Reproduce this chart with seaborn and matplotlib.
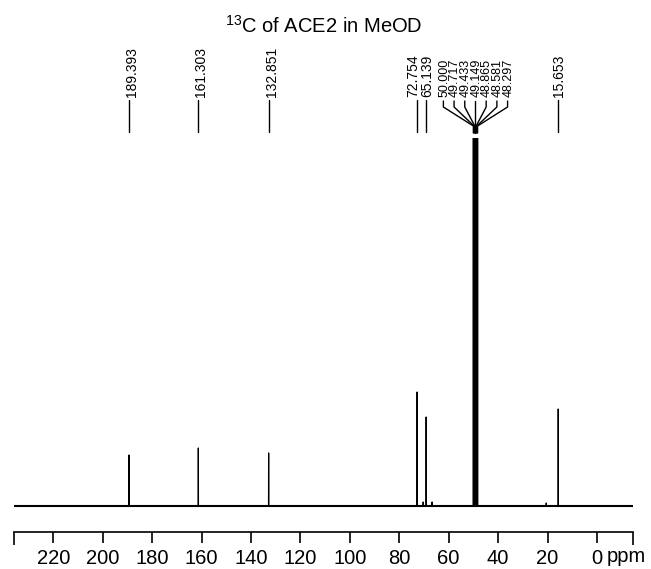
import numpy as np
import pandas as pd
import seaborn as sns
import matplotlib.pyplot as plt
import matplotlib.transforms as mtransforms

sns.set_style("white")
plt.rcParams['font.family'] = ['Liberation Sans', 'DejaVu Sans']
plt.rcParams['mathtext.fontset'] = 'custom'
plt.rcParams['mathtext.rm'] = 'Liberation Sans'
plt.rcParams['text.color'] = 'black'
plt.rcParams['xtick.color'] = 'black'
plt.rcParams['axes.labelcolor'] = 'black'

# picos del espectro (ppm) y alturas (unidades arbitrarias, linea base = 0)
peak_ppm = [189.393, 161.303, 132.851, 72.754, 70.3, 69.1, 66.7, 20.5, 15.653]
peak_height = [51, 58, 53, 114, 4, 89, 4, 3, 97]
# septeto del disolvente (MeOD), se corta arriba
solvent_ppm = [50.000, 49.717, 49.433, 49.149, 48.865, 48.581, 48.297]
solvent_height = [700, 900, 1000, 1100, 1000, 900, 700]

# etiquetas de los picos
single_ppm = [189.393, 161.303, 132.851, 72.754, 69.1, 15.653]
single_text = ['189.393', '161.303', '132.851', '72.754', '65.139', '15.653']
cluster_text = ['50.000', '49.717', '49.433', '49.149', '48.865', '48.581', '48.297']

x_ticks = [0, 20, 40, 60, 80, 100, 120, 140, 160, 180, 200, 220]
x_left, x_right = 235.9, -14.6

# construimos la traza: linea base con picos muy finos
pts = [(x_left, 0.0)]
allp = sorted(zip(peak_ppm + solvent_ppm, peak_height + solvent_height), reverse=True)
for p, h in allp:
    pts += [(p + 0.04, 0.0), (p, h), (p - 0.04, 0.0)]
pts.append((x_right, 0.0))
spec = pd.DataFrame(pts, columns=['ppm', 'intensity'])

fig = plt.figure(figsize=(6.51, 5.69), dpi=100)
W, H = 651, 569
ax = fig.add_axes([14 / W, 37 / H, (633 - 14) / W, (532 - 138) / H])

sns.lineplot(data=spec, x='ppm', y='intensity', sort=False, estimator=None,
             color='black', lw=0.9, ax=ax)
ax.axhline(0, color='black', lw=1.5)

ax.set_xlim(x_left, x_right)
ax.set_ylim(-26, 368)
ax.set_yticks([])
ax.set(xlabel='', ylabel='')
for s in ['top', 'left', 'right']:
    ax.spines[s].set_visible(False)
ax.spines['bottom'].set_linewidth(1.2)
ax.spines['bottom'].set_color('black')
ax.set_xticks(x_ticks)
ax.set_xticklabels([str(t) for t in x_ticks])
ax.set_xticks([x_left, x_right], minor=True)
ax.tick_params(axis='x', which='both', bottom=True, direction='out', length=8,
               width=1.2, color='black', labelsize=14.5, pad=4)
ax.tick_params(axis='x', which='minor', length=9)
fig.text(607 / W, 7 / H, 'ppm', ha='left', va='baseline', fontsize=14.5)

# titulo
fig.text(324 / W, 1 - 33 / H, r'$^{13}$C of ACE2 in MeOD', ha='center',
         va='baseline', fontsize=14.5)

# etiquetas de los picos sobre el grafico
blend = mtransforms.blended_transform_factory(ax.transData, fig.transFigure)
fy = lambda px: 1 - px / H
# desplazamiento horizontal (px) de cada texto respecto a su linea
text_dx = [3, 3, 3, -4, 1, 1]

for p, t, dx in zip(single_ppm, single_text, text_dx):
    ax.plot([p, p], [fy(100), fy(132)], color='black', lw=1.0,
            transform=blend, clip_on=False)
    tr = mtransforms.offset_copy(blend, fig=fig, x=dx, y=0, units='dots')
    ax.text(p, fy(97), t, rotation=90, ha='center', va='bottom',
            fontsize=10, transform=tr)

ppm_per_px = (x_left - x_right) / (633 - 14)
spacing = 10.7 * ppm_per_px
tr = mtransforms.offset_copy(blend, fig=fig, x=1, y=0, units='dots')
for i, (p, t) in enumerate(zip(solvent_ppm, cluster_text)):
    lx = 49.149 + (3 - i) * spacing
    ax.plot([lx, lx, p, p], [fy(101), fy(107), fy(126), fy(133)],
            color='black', lw=1.0, transform=blend, clip_on=False)
    ax.text(lx, fy(97), t, rotation=90, ha='center', va='bottom',
            fontsize=9, transform=tr)

fig.savefig('out.png', dpi=100)
